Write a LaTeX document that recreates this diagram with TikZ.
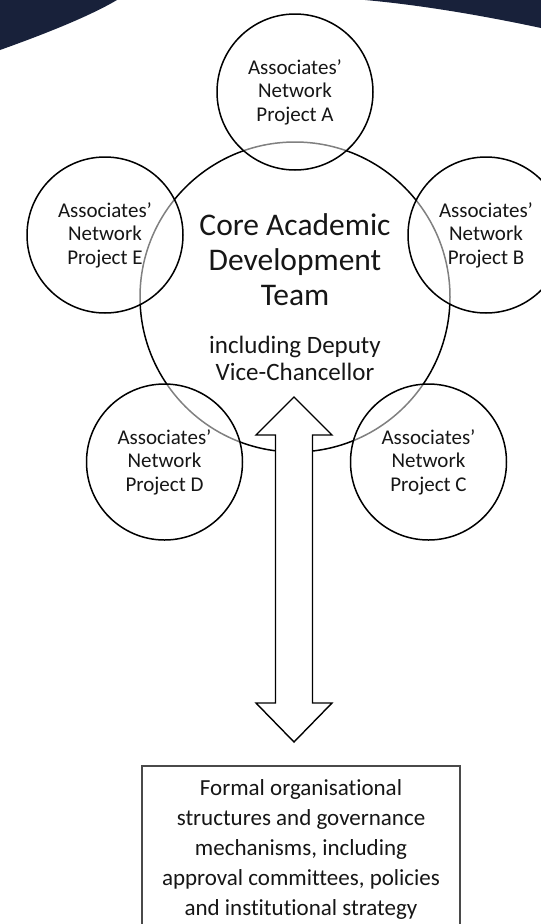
\documentclass[tikz,border=0pt]{standalone}
\usepackage{fontspec}
\setmainfont[Ligatures=ResetAll,RawFeature={-liga;-clig}]{Carlito}
\definecolor{navy}{HTML}{18213A}
\definecolor{boxgray}{HTML}{4A4A4A}
\definecolor{inktext}{HTML}{161616}
\tikzset{
  assoc/.style={draw=black, circle, minimum size=156pt, line width=1.5pt,
    fill=white, fill opacity=0.5, text opacity=1, align=center,
    text=inktext, font=\fontsize{21}{23.5}\selectfont, inner sep=0pt},
  corecircle/.style={draw=black, circle, minimum size=310pt, line width=1.5pt},
  bigarrow/.style={draw=black, line width=1.4pt, fill=white, line join=miter},
  govbox/.style={draw=boxgray, line width=1.5pt, minimum width=318pt,
    minimum height=200pt, anchor=north, fill=white},
}
\begin{document}
\begin{tikzpicture}[x=1pt,y=-1pt]
\useasboundingbox (0,0) rectangle (541,924);
\clip (0,0) rectangle (541,924);
% navy corners
\fill[navy] (0,0) -- (0,50) .. controls (45,34) and (90,16) .. (117,0) -- cycle;
\fill[navy] (365,0) .. controls (420,5) and (480,15) .. (541,28) -- (541,0) -- cycle;
% core circle
\node[corecircle] (core) at (295,297) {};
% associates circles
\node[assoc] (pa) at (295,92) {Associates'\\Network\\Project A};
\node[assoc] (pe) at (105,235) {Associates'\\Network\\Project E};
\node[assoc] (pb) at (486,235) {Associates'\\Network\\Project B};
\node[assoc] (pd) at (164.5,462) {Associates'\\Network\\Project D};
\node[assoc] (pc) at (428.5,462) {Associates'\\Network\\Project C};
% double arrow
\coordinate (up) at (294,397);
\coordinate (down) at (294,742);
\draw[bigarrow] (up) -- ++(38,38) -- ++(-19.5,0) -- ++(0,268) -- ++(19.5,0)
  -- (down) -- ++(-38,-39) -- ++(19.5,0) -- ++(0,-268) -- ++(-19.5,0) -- cycle;
% core text
\node[align=center, text=inktext, font=\fontsize{31.5}{35}\selectfont] (coretitle) at (295,260) {Core Academic\\Development\\Team};
\node[align=center, text=inktext, font=\fontsize{25}{27}\selectfont] (coresub) at (295,358.5) {including Deputy\\Vice-Chancellor};
% governance box
\node[govbox] (gov) at (301,765) {};
\node[align=center, text=inktext, font=\fontsize{23}{30}\selectfont] (govtext) at (301,849) {Formal organisational\\structures and governance\\mechanisms, including\\approval committees, policies\\and institutional strategy};
\end{tikzpicture}
\end{document}
